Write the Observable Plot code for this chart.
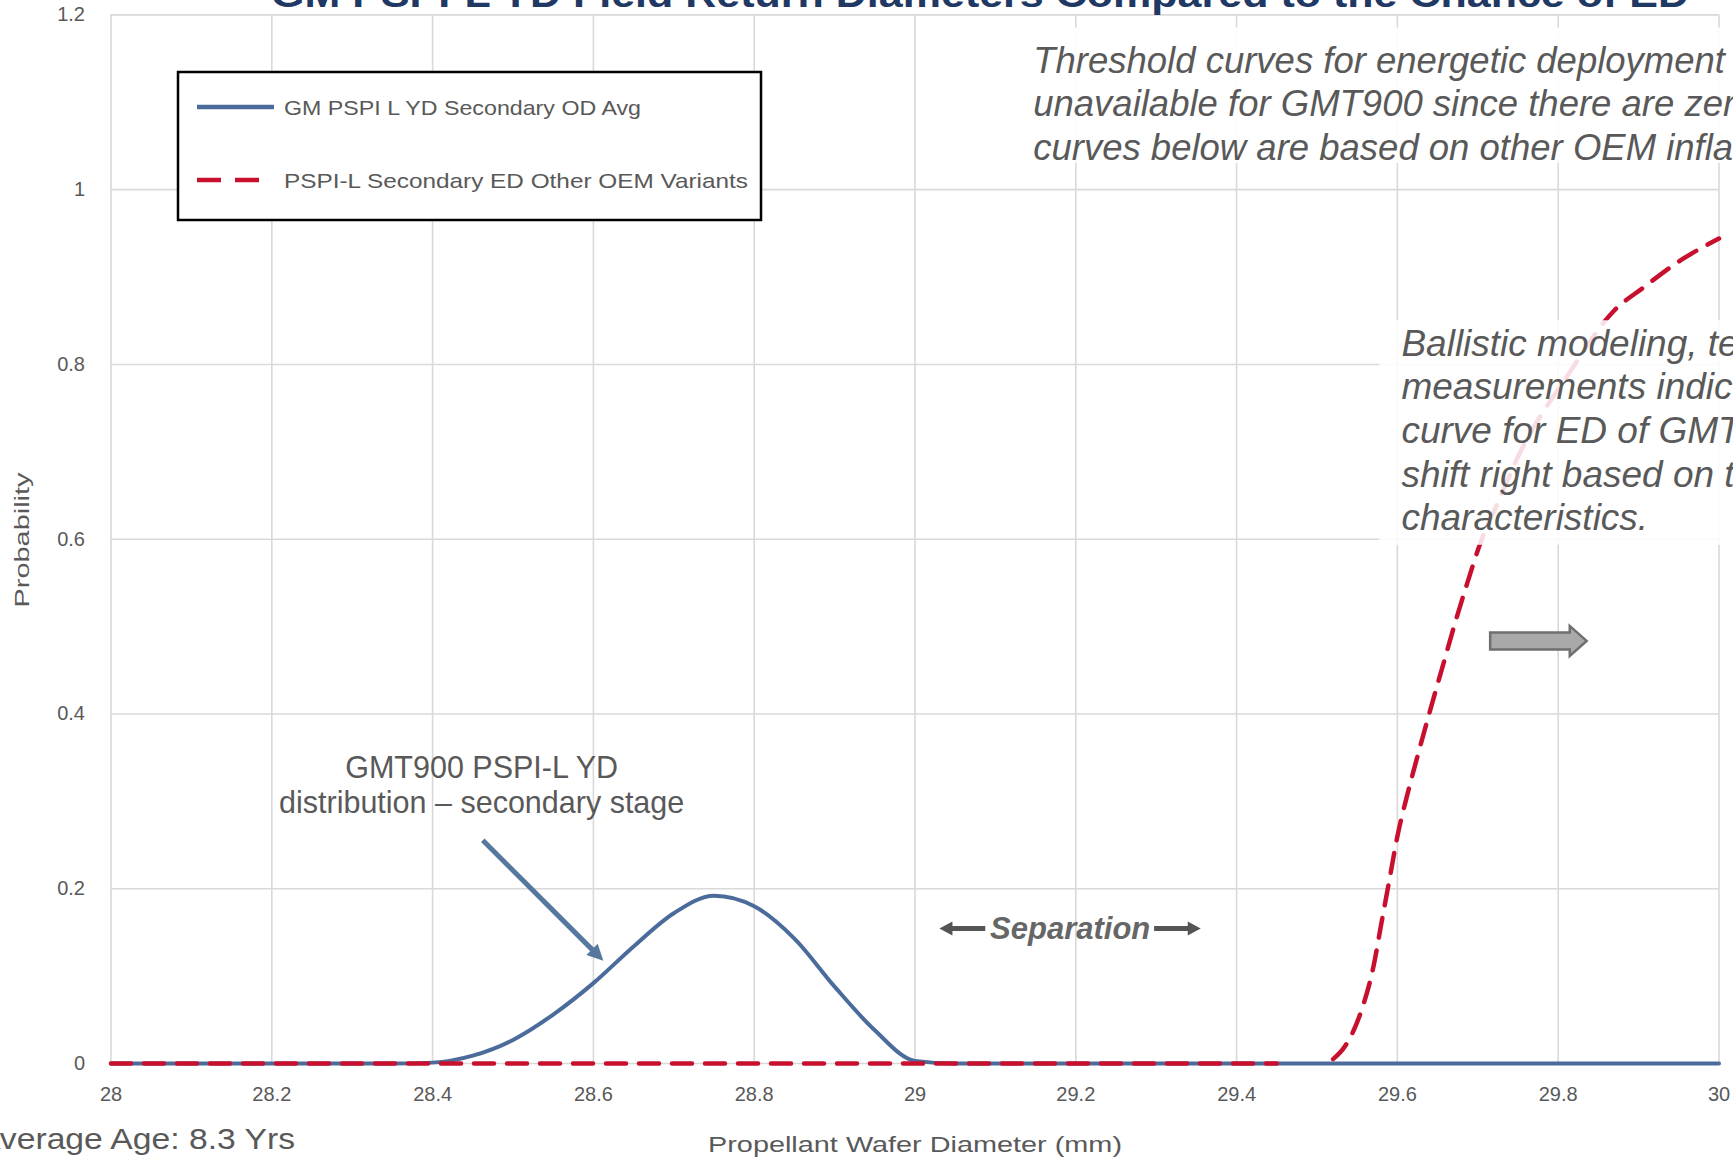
<!DOCTYPE html>
<html><head><meta charset="utf-8">
<script src="https://cdn.jsdelivr.net/npm/d3@7"></script>
<script src="https://cdn.jsdelivr.net/npm/@observablehq/plot@0.6"></script>
<style>
html,body{margin:0;padding:0;background:#fff;overflow:hidden}
#chart{position:relative;width:1733px;height:1161px;overflow:hidden}
#chart svg{display:block}
</style></head><body><div id="chart"></div>
<script>
// ---- data ----
const titleText = "GM PSPI-L YD Field Return Diameters Compared to the Chance of ED";
const xLabel = "Propellant Wafer Diameter (mm)";
const yLabel = "Probability";
const ageNote = "Average Age: 8.3 Yrs";
const seriesNames = ["GM PSPI L YD Secondary OD Avg", "PSPI-L Secondary ED Other OEM Variants"];

const xTicks = [28, 28.2, 28.4, 28.6, 28.8, 29, 29.2, 29.4, 29.6, 29.8, 30];
const xTickLabels = ["28", "28.2", "28.4", "28.6", "28.8", "29", "29.2", "29.4", "29.6", "29.8", "30"];
const yTicks = [0, 0.2, 0.4, 0.6, 0.8, 1, 1.2];
const yTickLabels = ["0", "0.2", "0.4", "0.6", "0.8", "1", "1.2"];

// GM PSPI L YD Secondary OD Avg (solid blue)
const blueX = [28, 28.35, 28.4, 28.45, 28.5, 28.55, 28.6, 28.65, 28.7, 28.75, 28.8, 28.85, 28.9, 28.95, 29.0, 29.05, 30];
const blueY = [0, 0, 0.001, 0.009, 0.027, 0.056, 0.092, 0.134, 0.172, 0.192, 0.18, 0.143, 0.088, 0.038, 0.003, 0, 0];

// PSPI-L Secondary ED Other OEM Variants (dashed red); null = gap in the drawn curve
const redX = [28, 29.45, 29.48, 29.52, 29.535, 29.555, 29.57, 29.58, 29.59, 29.6, 29.613, 29.626, 29.641, 29.658, 29.672, 29.687, 29.703, 29.724, 29.753, 29.81, 29.87, 29.906, 29.952, 30];
const redY = [0, 0, null, 0.005, 0.02, 0.06, 0.11, 0.16, 0.21, 0.26, 0.31, 0.355, 0.405, 0.46, 0.505, 0.55, 0.595, 0.64, 0.70, 0.785, 0.862, 0.888, 0.919, 0.944];

const noteDistribution = "GMT900 PSPI-L YD\ndistribution – secondary stage";
const noteSeparation = "Separation";
const noteThreshold = "Threshold curves for energetic deployment\nunavailable for GMT900 since there are zero\ncurves below are based on other OEM inflators";
const noteBallistic = "Ballistic modeling, test\nmeasurements indicate\ncurve for ED of GMT900\nshift right based on the\ncharacteristics.";

const blue = blueX.map((x, i) => ({x, y: blueY[i]}));
const red = redX.map((x, i) => ({x, y: redY[i]}));

const BLUE = "#4b6c9b", RED = "#c8102e", GRID = "#d9d9d9", TXT = "#595959";

const plot = Plot.plot({
  width: 1733, height: 1161,
  marginLeft: 110.5, marginRight: 14.5, marginTop: 14.4, marginBottom: 98,
  style: {fontFamily: "'Liberation Sans', Arial, sans-serif", background: "white", overflow: "hidden"},
  x: {domain: [28, 30]},
  y: {domain: [0, 1.2]},
  marks: [
    Plot.gridX(xTicks, {stroke: GRID, strokeOpacity: 1, strokeWidth: 1.6}),
    Plot.gridY(yTicks, {stroke: GRID, strokeOpacity: 1, strokeWidth: 1.6}),
    Plot.axisX(xTicks, {tickSize: 0, tickPadding: 23, fontSize: 20, fill: TXT, label: null,
      tickFormat: d => xTickLabels[xTicks.indexOf(d)]}),
    Plot.axisY(yTicks, {tickSize: 0, tickPadding: 26, fontSize: 20, fill: TXT, label: null,
      tickFormat: d => yTickLabels[yTicks.indexOf(d)]}),
    Plot.line(blue, {x: "x", y: "y", stroke: BLUE, strokeWidth: 4, curve: "monotone-x"}),
    Plot.line(red, {x: "x", y: "y", stroke: RED, strokeWidth: 4.5, strokeDasharray: "20,13", curve: "monotone-x"}),
    // white text panels
    Plot.rect([0], {x1: 29.578, x2: 30.2, y1: 0.593, y2: 0.85, fill: "white", fillOpacity: 0.86}),
    Plot.rect([0], {x1: 29.14, x2: 30.2, y1: 1.03, y2: 1.185, fill: "white", fillOpacity: 0.9}),
    Plot.text([noteThreshold], {x: 29.147, y: 1.1, textAnchor: "start", fontSize: 36.5, fontStyle: "italic", fill: TXT, lineHeight: 1.19}),
    Plot.text([noteBallistic], {x: 29.605, y: 0.726, textAnchor: "start", fontSize: 37, fontStyle: "italic", fill: TXT, lineHeight: 1.18}),
    Plot.text([noteDistribution], {x: 28.461, y: 0.32, fontSize: 30.5, fill: TXT, lineHeight: 1.16}),
    Plot.text([noteSeparation], {x: 29.193, y: 0.154, fontSize: 31, fontStyle: "italic", fontWeight: "bold", fill: "#666666"})
  ]
});
document.getElementById("chart").append(plot);

const svg = d3.select(plot);
const sx = plot.scale("x"), sy = plot.scale("y");
const X = v => sx.apply(v), Y = v => sy.apply(v);

// straight arrows with filled heads
function arrow(x1, y1, x2, y2, color, w, hl, hw) {
  const p1 = [X(x1), Y(y1)], p2 = [X(x2), Y(y2)];
  const dx = p2[0] - p1[0], dy = p2[1] - p1[1], L = Math.hypot(dx, dy);
  const ux = dx / L, uy = dy / L, nx = -uy, ny = ux;
  const bx = p2[0] - ux * hl, by = p2[1] - uy * hl;
  svg.append("line").attr("x1", p1[0]).attr("y1", p1[1]).attr("x2", bx + ux * 2).attr("y2", by + uy * 2)
    .attr("stroke", color).attr("stroke-width", w);
  svg.append("path").attr("d", `M${p2[0]},${p2[1]}L${bx + nx * hw},${by + ny * hw}L${bx - nx * hw},${by - ny * hw}Z`)
    .attr("fill", color);
}
arrow(28.463, 0.255, 28.613, 0.117, "#56789f", 5, 16, 8);
arrow(29.088, 0.154, 29.031, 0.154, "#555555", 5, 13, 7);
arrow(29.298, 0.154, 29.356, 0.154, "#555555", 5, 13, 7);

// block arrow (shift right)
const ax0 = X(29.716), ax1 = X(29.815), ax2 = X(29.836), ay = Y(0.483);
svg.append("path")
  .attr("d", `M${ax0},${ay - 8.5}L${ax1},${ay - 8.5}L${ax1},${ay - 15}L${ax2},${ay}L${ax1},${ay + 15}L${ax1},${ay + 8.5}L${ax0},${ay + 8.5}Z`)
  .attr("fill", "#a9a9a9").attr("stroke", "#6f6f6f").attr("stroke-width", 2.5);

// title (cropped at top)
svg.append("text").attr("x", 980).attr("y", 7).attr("text-anchor", "middle")
  .attr("font-size", 36).attr("font-weight", "bold").attr("fill", "#1f3864")
  .attr("textLength", 1418).attr("lengthAdjust", "spacingAndGlyphs").text(titleText);

// axis titles
svg.append("text").attr("x", 915).attr("y", 1144).attr("text-anchor", "middle").attr("dominant-baseline", "central")
  .attr("font-size", 22).attr("fill", TXT).attr("textLength", 414).attr("lengthAdjust", "spacingAndGlyphs").text(xLabel);
svg.append("text").attr("transform", "translate(22,540) rotate(-90)").attr("text-anchor", "middle").attr("dominant-baseline", "central")
  .attr("font-size", 20).attr("fill", TXT).attr("textLength", 135).attr("lengthAdjust", "spacingAndGlyphs").text(yLabel);

// age note (cropped at left)
svg.append("text").attr("x", -22).attr("y", 1139).attr("text-anchor", "start").attr("dominant-baseline", "central")
  .attr("font-size", 29).attr("fill", TXT).attr("textLength", 317).attr("lengthAdjust", "spacingAndGlyphs").text(ageNote);

// legend
const lg = svg.append("g").attr("text-anchor", "start");
lg.append("rect").attr("x", 178).attr("y", 72).attr("width", 583).attr("height", 148)
  .attr("fill", "white").attr("stroke", "#000").attr("stroke-width", 2.5);
lg.append("line").attr("x1", 197).attr("x2", 274).attr("y1", 107).attr("y2", 107).attr("stroke", BLUE).attr("stroke-width", 4.5);
lg.append("line").attr("x1", 197).attr("x2", 262).attr("y1", 180).attr("y2", 180).attr("stroke", RED).attr("stroke-width", 4.5).attr("stroke-dasharray", "24,14");
lg.append("text").attr("x", 284).attr("y", 107).attr("text-anchor", "start").attr("dominant-baseline", "central").attr("font-size", 21).attr("fill", TXT)
  .attr("textLength", 357).attr("lengthAdjust", "spacingAndGlyphs").text(seriesNames[0]);
lg.append("text").attr("x", 284).attr("y", 180).attr("text-anchor", "start").attr("dominant-baseline", "central").attr("font-size", 21).attr("fill", TXT)
  .attr("textLength", 464).attr("lengthAdjust", "spacingAndGlyphs").text(seriesNames[1]);
</script></body></html>
